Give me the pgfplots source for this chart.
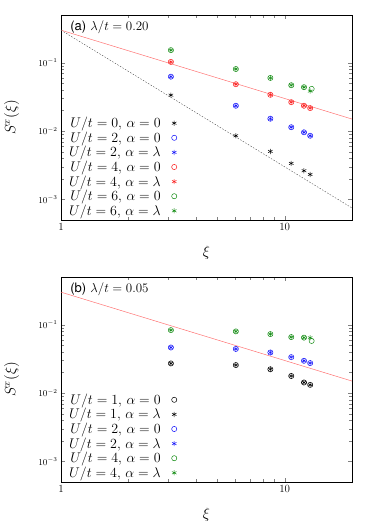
\RequirePackage{fix-cm}
\documentclass[border=0pt]{standalone}
\usepackage{fontspec}
\usepackage{pgfplots}
\pgfplotsset{compat=1.18}
\newfontfamily\hv{TeX Gyre Heros}

\definecolor{cgreen}{RGB}{20,140,20}
\definecolor{cblue}{RGB}{20,20,250}
\definecolor{cred}{RGB}{250,30,30}

\pgfplotsset{pts/.style={only marks, mark size=2.6pt, line width=0.5pt}}

\begin{document}
\begin{tikzpicture}
\path[use as bounding box] (0,0) rectangle (374pt,523pt);

% (a) lambda/t = 0.20
\begin{axis}[at={(61pt,303pt)}, anchor=south west,
    xmode=log, ymode=log,
    scale only axis, width=291pt, height=205pt,
    xmin=1, xmax=20, ymin=5e-4, ymax=0.5,
    tick align=inside,
    xtick={1,10}, xticklabels={1,10},
    ytick={1e-3,1e-2,1e-1},
    xticklabel style={font=\fontsize{11}{13}\selectfont},
    yticklabel style={font=\fontsize{9}{11}\selectfont},
    xlabel={$\xi$}, ylabel={$S^x(\xi)$},
    xlabel style={at={(axis description cs:0.5,-0.16)}, anchor=center, font=\fontsize{15}{17}\selectfont},
    ylabel style={at={(axis description cs:-0.17,0.5)}, anchor=center, font=\fontsize{15}{17}\selectfont},
    legend plot pos=right,
    legend style={draw=none, fill=none, at={(axis description cs:0.017,0.0)}, anchor=south west,
      font=\fontsize{14}{16}\selectfont, cells={anchor=east}, inner sep=1pt,
      row sep=-1.4pt, /tikz/every odd column/.append style={column sep=9pt}}]
\addplot[red!55, no marks, sharp plot, line width=0.5pt, forget plot] coordinates {(1,0.3) (20,0.015)};
\addplot[black!70, no marks, sharp plot, line width=0.4pt, dash pattern=on 1.5pt off 1.5pt, forget plot] coordinates {(1,0.3) (20,0.00075)};
\addplot[pts, black, mark=asterisk] coordinates {
  (3.1,0.0336) (6.05,0.00855) (8.63,0.00504) (10.7,0.00337) (12.2,0.00263) (13.0,0.00232)};
\addplot[pts, cblue, mark=o] coordinates {
  (3.1,0.0626) (6.05,0.0235) (8.63,0.0152) (10.7,0.0114) (12.2,0.0096) (13.0,0.00855)};
\addplot[pts, cblue, mark=asterisk] coordinates {
  (3.1,0.0626) (6.05,0.0235) (8.63,0.0152) (10.7,0.0114) (12.2,0.0096) (13.0,0.00855)};
\addplot[pts, cred, mark=o] coordinates {
  (3.1,0.103) (6.05,0.0485) (8.63,0.034) (10.7,0.0265) (12.2,0.0235) (13.0,0.0217)};
\addplot[pts, cred, mark=asterisk] coordinates {
  (3.1,0.103) (6.05,0.0485) (8.63,0.034) (10.7,0.0265) (12.2,0.0235) (13.0,0.0217)};
\addplot[pts, cgreen, mark=o] coordinates {
  (3.1,0.153) (6.05,0.081) (8.63,0.060) (10.7,0.0469) (12.2,0.0439) (13.2,0.0415)};
\addplot[pts, cgreen, mark=asterisk] coordinates {
  (3.1,0.153) (6.05,0.081) (8.63,0.060) (10.7,0.0469) (12.2,0.0439) (13.0,0.0385)};
\legend{{$U/t=0$, $\alpha=0$},{$U/t=2$, $\alpha=0$},{$U/t=2$, $\alpha=\lambda$},
  {$U/t=4$, $\alpha=0$},{$U/t=4$, $\alpha=\lambda$},{$U/t=6$, $\alpha=0$},{$U/t=6$, $\alpha=\lambda$}}
\node[anchor=west, font=\fontsize{13}{15}\selectfont] at (axis description cs:0.02,0.94) {{\hv (a)} $\lambda/t=0.20$};
\end{axis}

% (b) lambda/t = 0.05
\begin{axis}[at={(61pt,41pt)}, anchor=south west,
    xmode=log, ymode=log,
    scale only axis, width=291pt, height=205pt,
    xmin=1, xmax=20, ymin=5e-4, ymax=0.5,
    tick align=inside,
    xtick={1,10}, xticklabels={1,10},
    ytick={1e-3,1e-2,1e-1},
    xticklabel style={font=\fontsize{11}{13}\selectfont},
    yticklabel style={font=\fontsize{9}{11}\selectfont},
    xlabel={$\xi$}, ylabel={$S^x(\xi)$},
    xlabel style={at={(axis description cs:0.5,-0.16)}, anchor=center, font=\fontsize{15}{17}\selectfont},
    ylabel style={at={(axis description cs:-0.17,0.5)}, anchor=center, font=\fontsize{15}{17}\selectfont},
    legend plot pos=right,
    legend style={draw=none, fill=none, at={(axis description cs:0.017,0.0)}, anchor=south west,
      font=\fontsize{14}{16}\selectfont, cells={anchor=east}, inner sep=1pt,
      row sep=-1.4pt, /tikz/every odd column/.append style={column sep=9pt}}]
\addplot[red!55, no marks, sharp plot, line width=0.5pt, forget plot] coordinates {(1,0.3) (20,0.015)};
\addplot[pts, black, mark=o] coordinates {
  (3.1,0.0272) (6.05,0.0257) (8.63,0.0223) (10.7,0.0178) (12.2,0.0143) (13.0,0.0132)};
\addplot[pts, black, mark=asterisk] coordinates {
  (3.1,0.0272) (6.05,0.0257) (8.63,0.0223) (10.7,0.0178) (12.2,0.0143) (13.0,0.0132)};
\addplot[pts, cblue, mark=o] coordinates {
  (3.1,0.0465) (6.05,0.0443) (8.63,0.0393) (10.7,0.0336) (12.2,0.0297) (13.0,0.0275)};
\addplot[pts, cblue, mark=asterisk] coordinates {
  (3.1,0.0465) (6.05,0.0443) (8.63,0.0393) (10.7,0.0336) (12.2,0.0297) (13.0,0.0275)};
\addplot[pts, cgreen, mark=o] coordinates {
  (3.1,0.0835) (6.05,0.080) (8.63,0.073) (10.7,0.066) (12.2,0.0648) (13.2,0.058)};
\addplot[pts, cgreen, mark=asterisk] coordinates {
  (3.1,0.0835) (6.05,0.080) (8.63,0.073) (10.7,0.066) (12.2,0.0648) (13.0,0.0645)};
\legend{{$U/t=1$, $\alpha=0$},{$U/t=1$, $\alpha=\lambda$},{$U/t=2$, $\alpha=0$},
  {$U/t=2$, $\alpha=\lambda$},{$U/t=4$, $\alpha=0$},{$U/t=4$, $\alpha=\lambda$}}
\node[anchor=west, font=\fontsize{13}{15}\selectfont] at (axis description cs:0.02,0.94) {{\hv (b)} $\lambda/t=0.05$};
\end{axis}
\end{tikzpicture}
\end{document}
